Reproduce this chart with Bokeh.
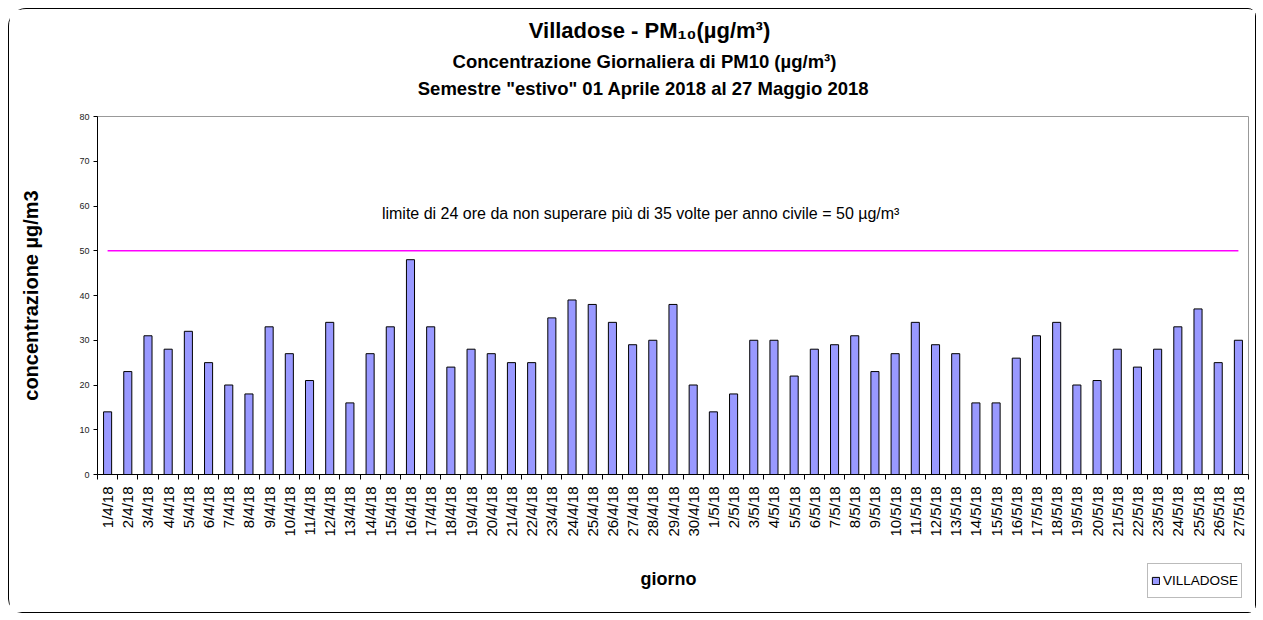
from bokeh.plotting import figure
from bokeh.layouts import column
from bokeh.models import (Range1d, FixedTicker, Label, Legend, LegendItem, ColumnDataSource)
from bokeh.embed import file_html
from bokeh.resources import INLINE

# ---------------- data ----------------
dates = ["1/4/18", "2/4/18", "3/4/18", "4/4/18", "5/4/18", "6/4/18", "7/4/18", "8/4/18",
         "9/4/18", "10/4/18", "11/4/18", "12/4/18", "13/4/18", "14/4/18", "15/4/18",
         "16/4/18", "17/4/18", "18/4/18", "19/4/18", "20/4/18", "21/4/18", "22/4/18",
         "23/4/18", "24/4/18", "25/4/18", "26/4/18", "27/4/18", "28/4/18", "29/4/18",
         "30/4/18", "1/5/18", "2/5/18", "3/5/18", "4/5/18", "5/5/18", "6/5/18", "7/5/18",
         "8/5/18", "9/5/18", "10/5/18", "11/5/18", "12/5/18", "13/5/18", "14/5/18",
         "15/5/18", "16/5/18", "17/5/18", "18/5/18", "19/5/18", "20/5/18", "21/5/18",
         "22/5/18", "23/5/18", "24/5/18", "25/5/18", "26/5/18", "27/5/18"]
villadose = [14, 23, 31, 28, 32, 25, 20, 18, 33, 27, 21, 34, 16, 27, 33, 48, 33, 24, 28, 27,
             25, 25, 35, 39, 38, 34, 29, 30, 38, 20, 14, 18, 30, 30, 22, 28, 29, 31, 23, 27,
             34, 29, 27, 16, 16, 26, 31, 34, 20, 21, 28, 24, 28, 33, 37, 25, 30]
limit_value = 50
y_ticks = [0, 10, 20, 30, 40, 50, 60, 70, 80]
series_name = "VILLADOSE"
title_main = "Villadose - PM₁₀(µg/m³)"
title_sub1 = "Concentrazione Giornaliera di PM10 (µg/m³)"
title_sub2 = 'Semestre "estivo" 01 Aprile 2018 al 27 Maggio 2018'
limit_text = "limite di 24 ore da non superare più di 35 volte per anno civile = 50 µg/m³"

FONT = "Liberation Sans"
W = 1246
FRAME_L, FRAME_R = 97, 1248   # page-x of the (aligned) plot frames
n = len(dates)
idx = list(range(n))
src = ColumnDataSource(dict(x=idx, top=villadose))


def blank(height, y0=0):
    f = figure(width=W, height=height, output_backend="svg", toolbar_location=None,
               x_range=Range1d(FRAME_L, FRAME_R), y_range=Range1d(y0, y0 + height),
               x_axis_type=None, y_axis_type=None, min_border=0,
               background_fill_color="white", border_fill_color="white")
    f.outline_line_color = None
    f.grid.visible = False
    return f


def text(x, y, s, size, bold=True):
    return Label(x=x, y=y, text=s, text_font=FONT, text_font_size=size,
                 text_font_style="bold" if bold else "normal", text_color="black",
                 text_align="center", text_baseline="middle")


# ---------------- header (titles) ----------------
H_HEAD = 97
head = blank(H_HEAD)
head.add_layout(text(649, H_HEAD - 21, title_main, "22px"))
head.add_layout(text(644, H_HEAD - 52, title_sub1, "18.5px"))
head.add_layout(text(643, H_HEAD - 79, title_sub2, "18.5px"))

# ---------------- main chart ----------------
p = figure(width=W, height=454, output_backend="svg", toolbar_location=None,
           x_range=Range1d(-0.5, n - 0.5), y_range=Range1d(0, 80),
           min_border_left=88, min_border_right=7, min_border_top=10, min_border_bottom=86,
           background_fill_color="white", border_fill_color="white")
p.outline_line_color = "#999999"
p.outline_line_width = 1
p.grid.visible = False

p.vbar(x="x", top="top", width=0.4, bottom=0, source=src,
       fill_color="#9999FF", line_color="black", line_width=1)

p.line(x=[0, n - 1], y=[limit_value, limit_value], line_color="#FF00FF", line_width=1.5)

p.add_layout(Label(x=26.4, y=58.3, text=limit_text,
                   text_font=FONT, text_font_size="16px", text_align="center",
                   text_baseline="middle", text_color="black"))

xa = p.xaxis[0]
xa.ticker = FixedTicker(ticks=idx, minor_ticks=[i - 0.5 for i in range(n + 1)])
xa.major_label_overrides = {i: d for i, d in enumerate(dates)}
xa.major_label_orientation = 1.5707963
xa.major_tick_out = 0
xa.major_tick_in = 0
xa.minor_tick_out = 5
xa.minor_tick_in = 0
xa.minor_tick_line_color = "black"
xa.axis_line_color = "black"
xa.major_label_text_font = FONT
xa.major_label_text_font_size = "15px"
xa.major_label_text_color = "black"
xa.major_label_standoff = 7

ya = p.yaxis[0]
ya.ticker = FixedTicker(ticks=y_ticks)
ya.major_tick_out = 4
ya.major_tick_in = 0
ya.minor_tick_out = 0
ya.minor_tick_in = 0
ya.axis_line_color = "black"
ya.major_label_text_font = FONT
ya.major_label_text_font_size = "9px"
ya.major_label_text_color = "#222222"
ya.major_label_standoff = 4
ya.axis_label = "concentrazione µg/m3"
ya.axis_label_text_font = FONT
ya.axis_label_text_font_size = "20px"
ya.axis_label_text_font_style = "bold"
ya.axis_label_text_color = "black"
ya.axis_label_standoff = 34

# ---------------- footer (x title + legend) ----------------
H_FOOT = 52
foot = blank(H_FOOT, y0=1000)
foot.add_layout(text(668, 1000 + H_FOOT - 18, "giorno", "18px"))
leg_r = foot.vbar(x="x", top="top", width=0.4, bottom=0, source=src,
                  fill_color="#9999FF", line_color="black", line_width=1)
leg_r.visible = False
legend = Legend(items=[LegendItem(label=series_name, renderers=[leg_r])],
                location=(1147 - FRAME_L, 14), orientation="vertical",
                label_text_font=FONT, label_text_font_size="13.5px", label_text_color="black",
                glyph_width=9, glyph_height=9, label_standoff=3,
                label_height=27, padding=3, margin=0, spacing=0,
                border_line_color="#777777", border_line_width=1.5,
                background_fill_color="white", background_fill_alpha=1,
                inactive_fill_alpha=0)
foot.add_layout(legend, "center")

page = column(head, p, foot, spacing=0,
              styles={"margin": "8px 0 0 8px", "border": "1px solid black",
                      "border-radius": "18px 8px 8px 14px", "background": "white"})

open("out.html", "w").write(file_html(page, INLINE))
